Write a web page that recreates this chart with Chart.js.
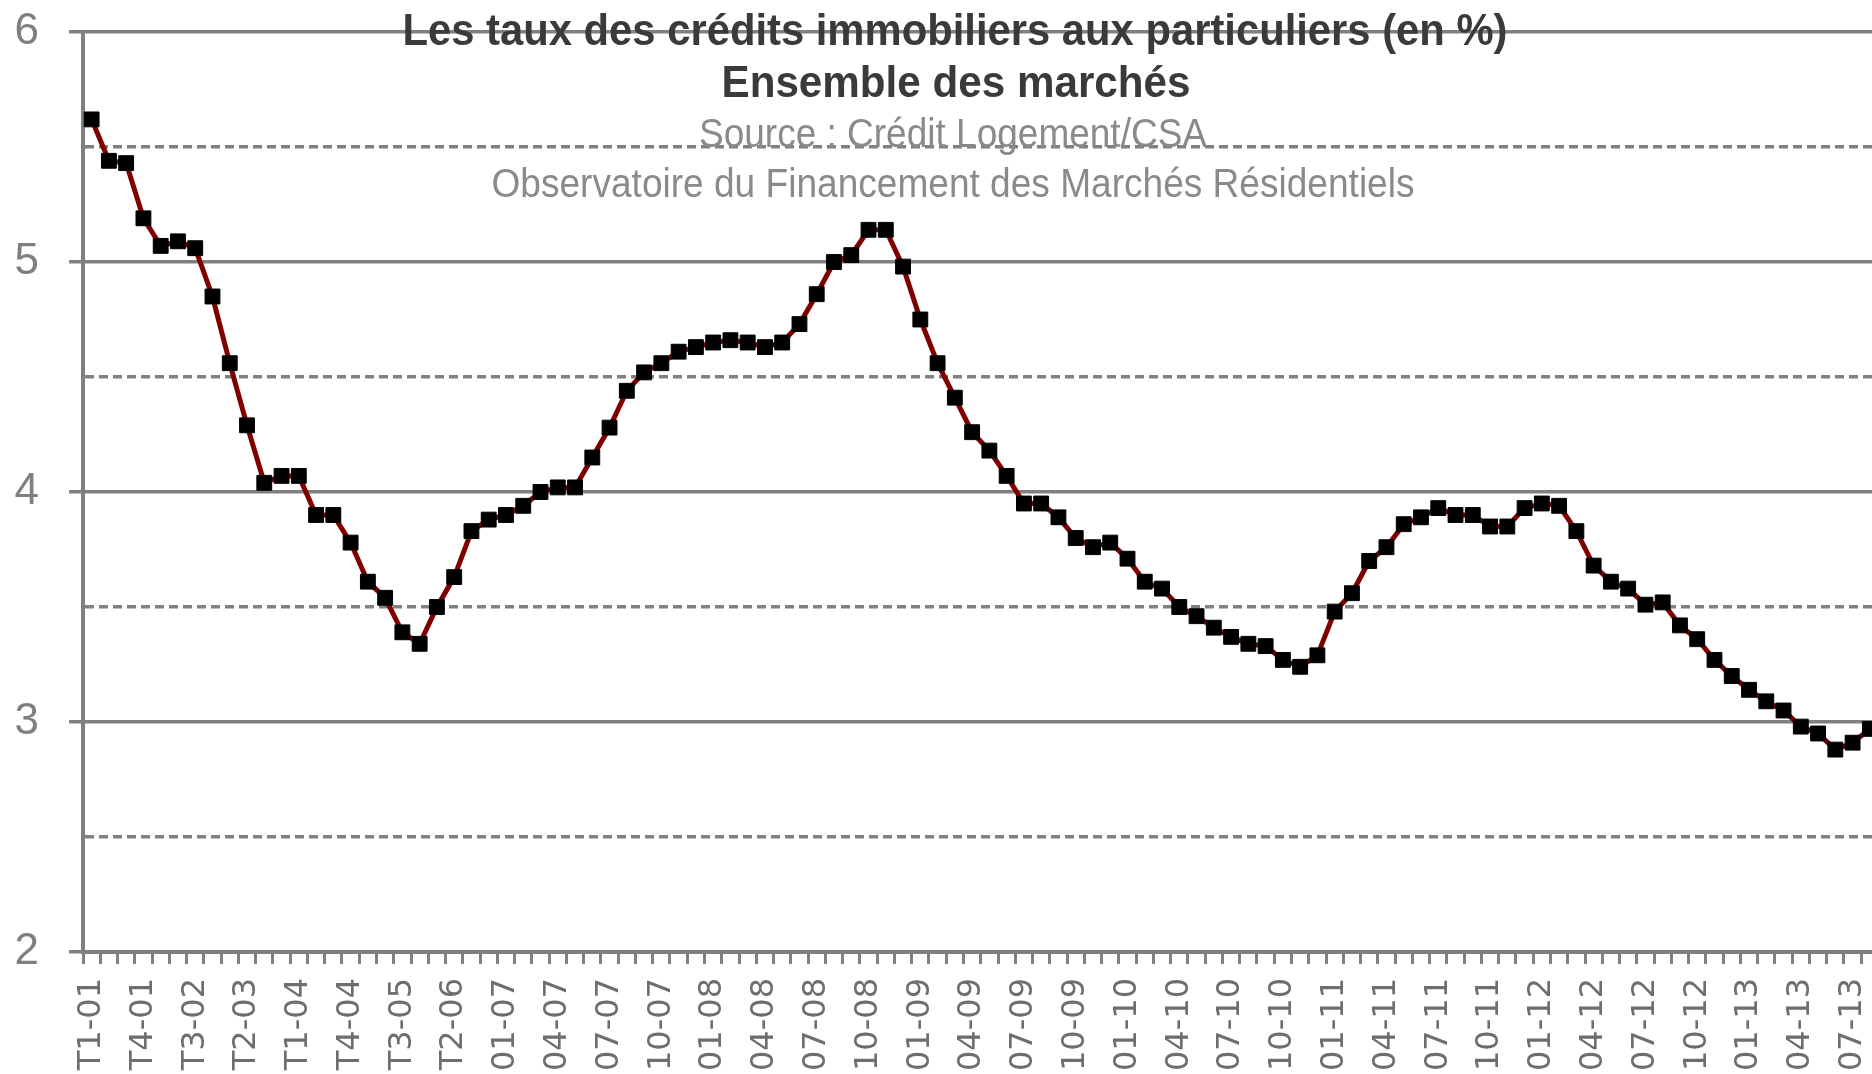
<!DOCTYPE html>
<html lang="fr">
<head>
<meta charset="utf-8">
<title>Taux des crédits immobiliers</title>
<script src="https://cdn.jsdelivr.net/npm/chart.js@4.4.1/dist/chart.umd.min.js"></script>
<style>
    html, body { margin: 0; padding: 0; background: #fff; overflow: hidden; }
    canvas { display: block; }
</style>
</head>
<body>
<canvas id="tauxChart" width="1890" height="1074"></canvas>
<script>
// trimestriel 2001-2006 puis mensuel 2007-2013
const periods = [
    'T1-01', 'T2-01', 'T3-01', 'T4-01', 'T1-02', 'T2-02', 'T3-02', 'T4-02',
    'T1-03', 'T2-03', 'T3-03', 'T4-03', 'T1-04', 'T2-04', 'T3-04', 'T4-04',
    'T1-05', 'T2-05', 'T3-05', 'T4-05', 'T1-06', 'T2-06', 'T3-06', 'T4-06',
    '01-07', '02-07', '03-07', '04-07', '05-07', '06-07', '07-07', '08-07', '09-07', '10-07', '11-07', '12-07',
    '01-08', '02-08', '03-08', '04-08', '05-08', '06-08', '07-08', '08-08', '09-08', '10-08', '11-08', '12-08',
    '01-09', '02-09', '03-09', '04-09', '05-09', '06-09', '07-09', '08-09', '09-09', '10-09', '11-09', '12-09',
    '01-10', '02-10', '03-10', '04-10', '05-10', '06-10', '07-10', '08-10', '09-10', '10-10', '11-10', '12-10',
    '01-11', '02-11', '03-11', '04-11', '05-11', '06-11', '07-11', '08-11', '09-11', '10-11', '11-11', '12-11',
    '01-12', '02-12', '03-12', '04-12', '05-12', '06-12', '07-12', '08-12', '09-12', '10-12', '11-12', '12-12',
    '01-13', '02-13', '03-13', '04-13', '05-13', '06-13', '07-13', '08-13'
];

const tauxEnsemble = [
    5.62, 5.44, 5.43, 5.19, 5.07, 5.09, 5.06, 4.85,
    4.56, 4.29, 4.04, 4.07, 4.07, 3.90, 3.90, 3.78,
    3.61, 3.54, 3.39, 3.34, 3.50, 3.63, 3.83, 3.88,
    3.90, 3.94, 4.00, 4.02, 4.02, 4.15, 4.28, 4.44, 4.52, 4.56, 4.61, 4.63,
    4.65, 4.66, 4.65, 4.63, 4.65, 4.73, 4.86, 5.00, 5.03, 5.14, 5.14, 4.98,
    4.75, 4.56, 4.41, 4.26, 4.18, 4.07, 3.95, 3.95, 3.89, 3.80, 3.76, 3.78,
    3.71, 3.61, 3.58, 3.50, 3.46, 3.41, 3.37, 3.34, 3.33, 3.27, 3.24, 3.29,
    3.48, 3.56, 3.70, 3.76, 3.86, 3.89, 3.93, 3.90, 3.90, 3.85, 3.85, 3.93,
    3.95, 3.94, 3.83, 3.68, 3.61, 3.58, 3.51, 3.52, 3.42, 3.36, 3.27, 3.20,
    3.14, 3.09, 3.05, 2.98, 2.95, 2.88, 2.91, 2.97
];

const yMin = 2;
const yMax = 6;
const yStep = 0.5;

const titleTexts = [
    'Les taux des crédits immobiliers aux particuliers (en %)',
    'Ensemble des marchés',
    'Source : Crédit Logement/CSA',
    'Observatoire du Financement des Marchés Résidentiels'
];

const gridGrey = '#808080';

// titre dessiné par-dessus la zone du graphique, comme dans l'original
const overlayTitle = {
    id: 'overlayTitle',
    afterDraw(chart) {
        const ctx = chart.ctx;
        const styles = [
            { font: 'bold 44px "Liberation Sans Narrow", "Liberation Sans", Arial, sans-serif', color: '#3a3a3a', cx: 955, y: 45, w: 1105 },
            { font: 'bold 44px "Liberation Sans Narrow", "Liberation Sans", Arial, sans-serif', color: '#3a3a3a', cx: 956, y: 97, w: 469 },
            { font: '40px "Liberation Sans Narrow", "Liberation Sans", Arial, sans-serif', color: '#8a8a8a', cx: 953, y: 147, w: 508 },
            { font: '40px "Liberation Sans Narrow", "Liberation Sans", Arial, sans-serif', color: '#8a8a8a', cx: 953, y: 197, w: 923 }
        ];
        titleTexts.forEach((text, i) => {
            const s = styles[i];
            ctx.save();
            ctx.font = s.font;
            ctx.fillStyle = s.color;
            ctx.textAlign = 'center';
            ctx.textBaseline = 'alphabetic';
            const measured = ctx.measureText(text).width;
            ctx.translate(s.cx, s.y);
            ctx.scale(s.w / measured, 1);
            ctx.fillText(text, 0, 0);
            ctx.restore();
        });
    }
};

const ctx = document.getElementById('tauxChart').getContext('2d');

const tauxChart = new Chart(ctx, {
    type: 'line',
    data: {
        labels: periods,
        datasets: [{
            label: 'Ensemble des marchés',
            data: tauxEnsemble,
            borderColor: '#800000',
            borderWidth: 5,
            tension: 0,
            pointStyle: 'rect',
            pointRadius: 10.5,
            pointBackgroundColor: '#000000',
            pointBorderColor: '#000000',
            pointBorderWidth: 1
        }]
    },
    options: {
        responsive: false,
        animation: false,
        layout: {
            padding: { top: 32, right: 3, left: 0, bottom: 0 }
        },
        plugins: {
            legend: { display: false },
            tooltip: { enabled: false },
            title: { display: false }
        },
        scales: {
            x: {
                offset: true,
                grid: {
                    offset: true,
                    drawOnChartArea: false,
                    drawTicks: true,
                    tickLength: 12,
                    tickWidth: 3,
                    tickColor: gridGrey
                },
                border: { color: gridGrey, width: 4 },
                ticks: {
                    autoSkip: false,
                    minRotation: 90,
                    maxRotation: 90,
                    padding: 14,
                    color: '#6e6e6e',
                    font: { family: '"DejaVu Sans", sans-serif', size: 32 },
                    callback: function (value, index) {
                        return index % 3 === 0 ? this.getLabelForValue(value) : '';
                    }
                },
                afterFit: (scale) => {
                    scale.height = 122;
                    scale.paddingLeft = 0;
                    scale.paddingRight = 0;
                }
            },
            y: {
                min: yMin,
                max: yMax,
                ticks: {
                    stepSize: yStep,
                    padding: 30,
                    color: '#7f7f7f',
                    font: { family: '"Liberation Sans Narrow", "Liberation Sans", sans-serif', size: 44 },
                    callback: (value) => Number.isInteger(value) ? value : ''
                },
                grid: {
                    color: gridGrey,
                    lineWidth: 3.5,
                    tickLength: 14,
                    tickColor: (c) => (c.tick && Number.isInteger(c.tick.value)) ? gridGrey : 'rgba(0,0,0,0)'
                },
                border: {
                    color: gridGrey,
                    width: 4,
                    dash: (c) => (c.tick && !Number.isInteger(c.tick.value)) ? [9, 5] : []
                },
                afterFit: (scale) => {
                    scale.width = 83;
                    scale.paddingTop = 0;
                    scale.paddingBottom = 0;
                }
            }
        }
    },
    plugins: [overlayTitle]
});
</script>
</body>
</html>
